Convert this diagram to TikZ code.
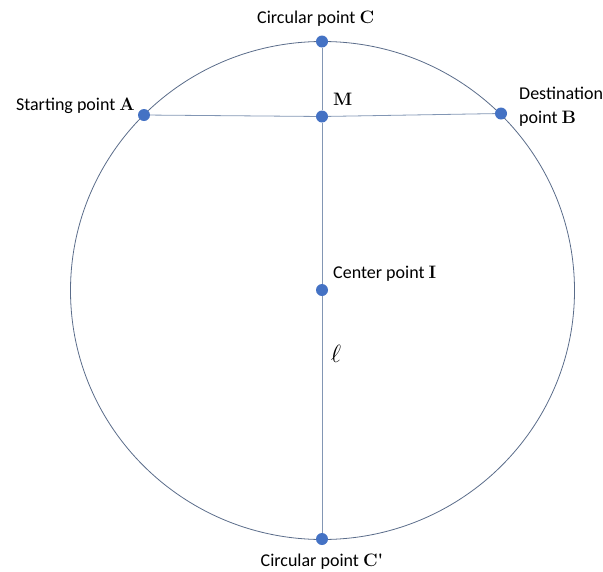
\documentclass[tikz,border=0pt]{standalone}
\usepackage{fontspec}
\setmainfont{Carlito}
\newfontfamily\lmr{Latin Modern Roman}
\usetikzlibrary{positioning}
\definecolor{dotblue}{RGB}{68,114,196}
\definecolor{rimgray}{RGB}{90,108,138}
\definecolor{chordgray}{RGB}{130,150,180}
\newcommand{\ptname}[1]{{\lmr\bfseries\fontsize{18}{18}\selectfont #1}}

\begin{document}
\begin{tikzpicture}[x=1pt, y=-1pt,
    dot/.style={circle, fill=dotblue, inner sep=0pt, minimum size=12pt},
    lbl/.style={font=\fontsize{18}{24}\selectfont, inner sep=0pt}]
    \useasboundingbox (0,0) rectangle (603,571);

    \draw[rimgray, line width=0.8pt] (322.5,290.5) ellipse [x radius=252, y radius=249];

    % points on the circle and chords
    \node[dot] (C) at (322,41.5) {};
    \node[dot] (M) at (322,116.5) {};
    \node[dot] (A) at (144,115) {};
    \node[dot] (B) at (501,113.5) {};
    \node[dot] (I) at (322,290) {};
    \node[dot] (Cp) at (322,539) {};

    \draw[chordgray, line width=0.8pt] (A) -- (M) -- (B);
    \draw[chordgray, line width=0.8pt] (C) -- (M) -- (I) -- (Cp);

    % labels
    \node[lbl, anchor=base east] (labA) at (135,110) {Starting point \ptname{A}};
    \node[lbl, anchor=base west] (labC) at (257,23) {Circular point \ptname{C}};
    \node[lbl, anchor=base west] (labM) at (333,105) {\ptname{M}};
    \node[lbl, anchor=north west, align=left] (labB) at (519,87) {Destination\\point \ptname{B}};
    \node[lbl, anchor=base west] (labI) at (333,278) {Center point \ptname{I}};
    \node[lbl, font=\fontsize{28}{28}\selectfont] (labl) at (336,354) {$\ell$};
    \node[lbl, anchor=base] (labCp) at (322,566) {Circular point \ptname{C'}};
\end{tikzpicture}
\end{document}
